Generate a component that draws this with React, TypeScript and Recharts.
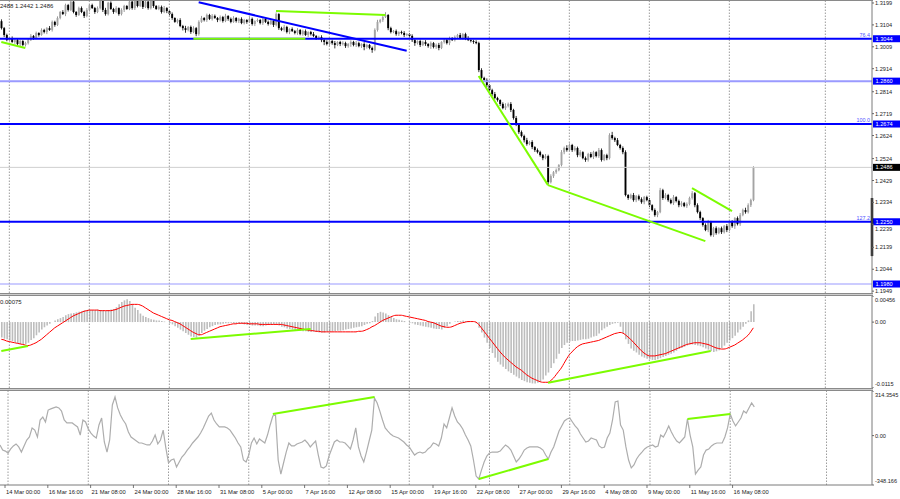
import React from "react"
import { ComposedChart, Bar, Line, XAxis, YAxis, ReferenceLine } from "recharts"

// ─── Price data (4H candles, prices in pips: 13044 = 1.3044) ──────────────────

const firstOpenPips = 13120

const closePips = [
  13090, 13060, 13038, 13047, 13030, 13038, 13021, 13034, 13017, 13025,
  13038, 13056, 13047, 13069, 13060, 13082, 13073, 13090, 13082, 13117,
  13104, 13134, 13160, 13151, 13190, 13169, 13205, 13160, 13147, 13177,
  13160, 13143, 13169, 13190, 13177, 13160, 13177, 13208, 13169, 13151,
  13200, 13173, 13160, 13177, 13151, 13169, 13186, 13173, 13205, 13177,
  13212, 13186, 13215, 13182, 13205, 13177, 13210, 13186, 13173, 13182,
  13160, 13177, 13164, 13151, 13134, 13117, 13125, 13099, 13090, 13082,
  13095, 13073, 13090, 13064, 13117, 13134, 13125, 13147, 13130, 13143,
  13134, 13125, 13138, 13121, 13143, 13130, 13117, 13134, 13121, 13130,
  13112, 13125, 13117, 13130, 13108, 13121, 13125, 13112, 13130, 13117,
  13108, 13121, 13104, 13151, 13090, 13082, 13095, 13073, 13086, 13077,
  13069, 13082, 13064, 13077, 13060, 13073, 13064, 13056, 13047, 13051,
  13038, 13030, 13021, 13034, 13025, 13017, 13030, 13021, 13025, 13012,
  13021, 13030, 13017, 13025, 13012, 13021, 13008, 13017, 13004, 12995,
  13082, 13117, 13125, 13138, 13147, 13090, 13073, 13077, 13064, 13073,
  13069, 13060, 13064, 13056, 13038, 13025, 13034, 13017, 13030, 13021,
  13012, 13025, 13008, 13017, 13004, 13030, 13038, 13025, 13047, 13038,
  13051, 13060, 13047, 13064, 13047, 13038, 13034, 13030, 13025, 12908,
  12874, 12865, 12843, 12821, 12804, 12787, 12778, 12761, 12743, 12752,
  12761, 12735, 12700, 12670, 12639, 12622, 12604, 12587, 12596, 12574,
  12561, 12552, 12539, 12526, 12535, 12422, 12448, 12465, 12474, 12496,
  12552, 12570, 12561, 12583, 12561, 12570, 12539, 12552, 12526, 12518,
  12544, 12531, 12552, 12535, 12561, 12518, 12539, 12526, 12626, 12613,
  12604, 12583, 12570, 12552, 12366, 12353, 12366, 12344, 12361, 12348,
  12335, 12357, 12344, 12322, 12301, 12279, 12292, 12387, 12353, 12366,
  12344, 12331, 12357, 12340, 12322, 12331, 12318, 12327, 12353, 12374,
  12322, 12292, 12266, 12236, 12214, 12249, 12192, 12222, 12201, 12222,
  12205, 12231, 12214, 12249, 12231, 12266, 12240, 12279, 12301, 12292,
  12322, 12344, 12486,
]

// shadow lengths above / below the body, pips
const upWick = [
  8, 5, 6, 4, 7, 3, 9, 5, 4, 6, 5, 8, 4, 6, 3, 7, 5, 4, 9, 6,
  5, 7, 4, 8, 6, 5, 3, 9, 4, 6, 7, 5, 8, 4, 6, 5, 7, 3, 6, 9,
  4, 6, 5, 8, 3, 7, 5, 4, 6, 8, 5, 4, 7, 6, 3, 8, 5, 6, 4, 7,
  6, 9, 4, 5, 7, 3, 6, 8, 5, 10, 4, 6, 8, 5, 7, 9, 4, 6, 5, 8,
  6, 4, 7, 5, 9, 3, 6, 8, 4, 5, 7, 5, 4, 8, 6, 3, 7, 5, 9, 4,
  6, 8, 5, 7, 4, 6, 9, 5, 3, 7, 5, 8, 4, 6, 7, 3, 5, 9, 4, 6,
  8, 5, 7, 4, 6, 9, 3, 5, 8, 6, 4, 7, 5, 9, 6, 3, 8, 5, 4, 6,
  7, 9, 5, 8, 12, 4, 6, 5, 7, 3, 6, 8, 4, 5, 7, 9, 3, 6, 5, 8,
  4, 7, 5, 6, 9, 3, 8, 5, 6, 4, 7, 5, 9, 4, 6, 8, 3, 5, 7, 6,
  8, 5, 7, 4, 6, 9, 5, 3, 7, 12, 6, 8, 5, 9, 4, 7, 6, 10, 5, 8,
  4, 7, 6, 5, 9, 6, 8, 5, 7, 4, 9, 6, 12, 7, 5, 8, 6, 9, 4, 7,
  5, 8, 6, 4, 9, 7, 5, 6, 8, 14, 6, 9, 5, 7, 8, 4, 6, 9, 5, 7,
  8, 5, 6, 9, 4, 7, 5, 10, 6, 8, 5, 7, 9, 4, 6, 8, 5, 7, 6, 9,
  5, 8, 6, 4, 7, 9, 5, 6, 8, 4, 7, 5, 9, 6, 8, 4, 7, 9, 6, 10,
  8, 6, 5,
]

const downWick = [
  6, 9, 5, 7, 4, 8, 6, 10, 5, 7, 6, 4, 8, 5, 7, 3, 6, 9, 4, 7,
  8, 5, 6, 4, 9, 7, 5, 6, 8, 4, 5, 9, 6, 7, 4, 8, 5, 6, 9, 7,
  6, 4, 8, 5, 7, 6, 9, 4, 5, 7, 8, 6, 4, 9, 5, 7, 6, 8, 4, 5,
  7, 5, 9, 6, 8, 4, 7, 5, 10, 12, 6, 8, 5, 9, 7, 4, 6, 8, 5, 7,
  4, 9, 6, 7, 5, 8, 6, 4, 7, 9, 5, 6, 8, 4, 7, 9, 5, 6, 8, 5,
  7, 4, 9, 6, 8, 5, 7, 6, 9, 4, 6, 8, 5, 7, 4, 9, 6, 5, 8, 7,
  9, 14, 6, 8, 7, 15, 5, 9, 6, 8, 7, 12, 6, 9, 5, 8, 14, 7, 6, 12,
  5, 7, 6, 8, 4, 9, 6, 5, 7, 8, 6, 9, 5, 7, 8, 12, 6, 9, 5, 8,
  7, 12, 6, 8, 10, 5, 7, 6, 9, 4, 6, 8, 5, 7, 9, 4, 6, 8, 5, 9,
  7, 6, 9, 5, 8, 6, 7, 9, 5, 8, 6, 9, 7, 5, 8, 6, 10, 7, 5, 9,
  8, 6, 7, 9, 5, 10, 6, 8, 7, 5, 6, 9, 7, 5, 8, 6, 9, 7, 5, 8,
  7, 5, 9, 6, 8, 7, 5, 9, 6, 7, 8, 5, 7, 9, 6, 8, 5, 7, 9, 6,
  7, 9, 5, 8, 6, 7, 9, 5, 8, 6, 7, 5, 8, 6, 9, 7, 5, 8, 6, 7,
  9, 6, 8, 7, 5, 9, 6, 8, 7, 5, 8, 6, 9, 5, 7, 12, 6, 8, 5, 7,
  6, 8, 5,
]

// ─── Indicators ───────────────────────────────────────────────────────────────

// MACD histogram and signal, units of 0.0001
const macdHist = [
  -27, -29, -30, -32, -33, -35, -37, -38, -39, -38, -36, -31, -28, -23, -18, -13, -9, -6, -3, 0,
  3, 5, 7, 9, 12, 14, 15, 16, 17, 18, 19, 20, 21, 21, 21, 21, 22, 21, 21, 20,
  21, 22, 23, 26, 31, 35, 38, 40, 37, 30, 25, 21, 15, 11, 9, 7, 5, 4, 3, 3,
  2, 1, 0, -2, -4, -7, -10, -13, -16, -19, -22, -25, -26, -27, -24, -19, -15, -12, -9, -7,
  -5, -4, -4, -3, -2, -2, -1, -2, -2, -3, -3, -4, -5, -5, -6, -6, -6, -7, -7, -6,
  -5, -5, -4, -3, -6, -8, -9, -11, -12, -13, -14, -15, -15, -16, -16, -17, -17, -17, -17, -18,
  -18, -18, -17, -17, -16, -16, -15, -15, -14, -13, -12, -11, -10, -9, -8, -7, -5, -3, -2, 2,
  10, 16, 18, 17, 15, 12, 9, 7, 5, 4, 3, 2, 0, -1, -2, -4, -5, -6, -7, -8,
  -9, -10, -11, -12, -12, -13, -10, -7, -3, 0, 1, 2, 2, 3, 2, 2, 1, 0, -2, -10,
  -18, -27, -36, -45, -54, -62, -69, -74, -78, -82, -86, -89, -92, -95, -98, -101, -103, -105, -106, -107,
  -107, -106, -104, -100, -93, -88, -80, -72, -64, -55, -45, -40, -36, -34, -33, -33, -32, -31, -30, -30,
  -29, -27, -25, -24, -20, -14, -11, -8, -5, -3, -2, -1, -8, -20, -30, -38, -46, -50, -53, -57,
  -60, -62, -64, -65, -66, -66, -65, -63, -61, -59, -57, -55, -53, -50, -47, -45, -43, -41, -39, -39,
  -40, -41, -42, -44, -46, -48, -51, -52, -51, -49, -45, -41, -36, -32, -28, -24, -18, -13, -8, -3,
  3, 19, 31,
]

const macdSignal = [
  -30, -31, -33, -34, -35, -36, -37, -38, -39, -40, -41, -40, -38, -36, -33, -30, -26, -22, -18, -14,
  -10, -7, -4, -1, 2, 5, 8, 11, 13, 15, 17, 19, 20, 21, 21, 21, 21, 20, 20, 20,
  20, 20, 21, 22, 24, 26, 28, 29, 30, 31, 31, 31, 30, 28, 25, 22, 19, 16, 14, 12,
  10, 8, 6, 4, 3, 1, -1, -3, -6, -9, -12, -15, -18, -20, -22, -22, -20, -18, -16, -14,
  -12, -10, -8, -7, -6, -5, -4, -3, -3, -2, -2, -2, -2, -3, -3, -3, -3, -4, -4, -4,
  -4, -4, -4, -4, -4, -4, -5, -6, -7, -8, -9, -10, -11, -12, -13, -14, -15, -15, -16, -16,
  -17, -17, -17, -17, -17, -17, -17, -17, -17, -17, -17, -17, -17, -17, -16, -16, -15, -13, -11, -8,
  -6, -3, 0, 3, 5, 7, 9, 11, 12, 12, 12, 11, 10, 9, 8, 7, 6, 5, 4, 3,
  1, 0, -1, -3, -5, -7, -8, -9, -9, -8, -6, -4, -2, -1, 0, 1, 1, 1, 0, -4,
  -10, -16, -22, -28, -34, -40, -46, -52, -57, -62, -66, -70, -74, -78, -81, -84, -88, -92, -95, -98,
  -100, -102, -104, -105, -105, -105, -102, -98, -92, -86, -80, -72, -64, -57, -52, -47, -43, -40, -38, -37,
  -36, -35, -34, -33, -32, -30, -28, -26, -24, -22, -20, -19, -18, -19, -22, -26, -30, -35, -40, -45,
  -50, -54, -57, -59, -59, -59, -58, -57, -56, -55, -53, -51, -49, -47, -45, -43, -41, -39, -38, -37,
  -36, -36, -36, -37, -38, -39, -41, -43, -45, -46, -47, -47, -46, -44, -42, -40, -37, -34, -31, -27,
  -23, -17, -10,
]

const cciValues = [
  -66, -102, -109, -123, -94, -73, -59, -80, -116, -73, -31, -10, 54, 39, -10, 110, 131, 96, 180, 188,
  195, 202, 195, 173, 110, 89, 89, 89, 75, 61, 4, 110, 96, 47, 18, -3, -17, 75, 124, -45,
  -116, -31, 216, 272, 195, 145, 110, 82, 25, -10, -24, -38, -52, -52, -59, -66, -66, -38, 4, -59,
  -31, 39, -87, -193, -172, -165, -221, -186, -151, -130, -102, -80, -52, -31, -10, 18, 54, 96, 138, 159,
  110, 82, 61, 61, 61, 54, 39, 11, -17, -52, -80, -172, -186, -137, -52, -17, -59, -24, -38, -52,
  4, 75, 138, 145, -172, -271, -193, -116, -52, -73, -73, -59, -52, -45, -31, -52, -80, -59, -38, -137,
  -221, -228, -214, -144, -94, -45, -31, -45, -45, -52, -73, -94, -31, 54, -80, -144, -186, -116, -38, 39,
  265, 230, 173, 110, 54, 32, 11, -3, -10, -17, -31, -45, -66, -80, -109, -137, -123, -116, -123, -116,
  -94, -80, -52, -59, -73, -17, 82, 54, 124, 195, 138, 96, 75, 47, 4, -31, -73, -172, -285, -306,
  -243, -186, -144, -123, -116, -116, -116, -109, -87, -66, -80, -102, -144, -186, -165, -137, -102, -87, -80, -80,
  -80, -80, -87, -102, -137, -165, -116, -80, -24, 32, 68, 103, 117, 124, 96, 68, 47, 11, -17, -45,
  -38, -17, -24, -31, -73, -87, -80, -17, 18, 110, 237, 244, 75, 39, -80, -172, -228, -207, -165, -137,
  -116, -94, -80, -73, -66, -80, -73, 4, -10, 25, 68, 25, -10, -38, -52, -31, -10, 117, 4, -80,
  -271, -243, -221, -137, -102, -94, -73, -59, -52, -52, -52, -10, 54, 152, 103, 68, 96, 124, 173, 159,
  195, 230, 202,
]

const futureBars = 44

// ─── Axes, levels, drawings ───────────────────────────────────────────────────

const PRICE_HIGH = 1.3212
const PRICE_LOW = 1.1941
const priceTicks = [1.3199, 1.3104, 1.3009, 1.2914, 1.2814, 1.2719, 1.2624, 1.2524, 1.2429, 1.2334, 1.2239, 1.2139, 1.2044, 1.1949]

const MACD_DOMAIN = [-0.0115, 0.00456]
const macdTicks = [0.00456, 0, -0.0115]
const macdTickLabels = ["0.00456", "0.00", "-0.0115"]

const CCI_DOMAIN = [-348.166, 314.3545]
const cciTicks = [314.3545, 0, -348.166]
const cciTickLabels = ["314.3545", "0.00", "-348.166"]

const timeLabelIdx = [3, 19, 35, 51, 67, 83, 99, 115, 131, 147, 163, 179, 195, 211, 227, 243, 259, 275]
const timeLabels = [
  "14 Mar 00:00", "16 Mar 16:00", "21 Mar 08:00", "24 Mar 00:00", "28 Mar 16:00", "31 Mar 08:00",
  "5 Apr 00:00", "7 Apr 16:00", "12 Apr 08:00", "15 Apr 00:00", "19 Apr 16:00", "22 Apr 08:00",
  "27 Apr 00:00", "29 Apr 16:00", "4 May 08:00", "9 May 00:00", "11 May 16:00", "16 May 08:00",
]
const gridIdx = [3, 33, 63, 93, 123, 153, 183, 213, 243, 273, 309]

const levelPrices = [1.3044, 1.286, 1.2674, 1.225, 1.198]
const levelFibs = ["76.4", "", "100.0", "127.2", ""]
const levelStrong = [true, false, true, true, false]

const priceSegments = [
  [[0, 1.303], [9, 1.3004]],
  [[72, 1.3044], [114, 1.3044]],
  [[103, 1.3164], [144, 1.3147]],
  [[179, 1.2882], [205, 1.2409]],
  [[205, 1.2409], [264, 1.2166]],
  [[259, 1.2396], [274, 1.2296]],
]
const trendSegment = [[74, 1.3202], [152, 1.2992]]
const macdSegments = [
  [[0, -0.00504], [10, -0.00417]],
  [[71, -0.00295], [116, -0.0012]],
  [[205, -0.0106], [266, -0.00504]],
]
const cciSegments = [
  [[102, 152], [140, 272]],
  [[179, -306], [205, -165]],
  [[257, 117], [273, 152]],
]
// dark marker on the price scale
const scaleMark = [1.2353, 1.2101]

// ─── Rows ─────────────────────────────────────────────────────────────────────

const rows = Array.from({ length: closePips.length + futureBars }, (_, i) => {
  if (i >= closePips.length) return { i }
  const o = (i === 0 ? firstOpenPips : closePips[i - 1]) / 10000
  const c = closePips[i] / 10000
  const h = Math.max(o, c) + upWick[i] / 10000
  const l = Math.min(o, c) - downWick[i] / 10000
  return {
    i, o, h, l, c,
    range: [l, h],
    hist: macdHist[i] / 10000,
    signal: macdSignal[i] / 10000,
    cci: cciValues[i],
  }
})
const lastPrice = closePips[closePips.length - 1] / 10000
const lastIdx = rows.length - 1

// ─── Look ─────────────────────────────────────────────────────────────────────

const FONT = "'Liberation Sans', Arial, sans-serif"
const W = 900
const AXIS_W = 28
const GREEN = "#7cfc00"
const BLUE = "#0000ff"
const LIGHT_BLUE = "#9a9aff"
const GRID = "#9c9c9c"
const AXIS = "#7a7a7a"
const TEXT = "#222"
const NO_MARGIN = { top: 0, right: 0, bottom: 0, left: 0 }

function Candle(props: any) {
  const { x, y, width, height, payload } = props
  if (!payload || payload.o == null || !isFinite(y) || !isFinite(height)) return <g />
  const { o, h, l, c } = payload
  const top = Math.min(y, y + height)
  const bot = Math.max(y, y + height)
  const k = (bot - top) / (h - l)
  const yO = top + (h - o) * k
  const yC = top + (h - c) * k
  const cx = x + width / 2
  const bull = c >= o
  return (
    <g>
      <line x1={cx} x2={cx} y1={top} y2={bot} stroke={bull ? "#808080" : "#000"} strokeWidth={0.8} />
      <rect x={cx - 0.95} y={Math.min(yO, yC)} width={1.9} height={Math.max(0.8, Math.abs(yC - yO))} fill={bull ? "#a4a4a4" : "#000"} />
    </g>
  )
}

function PriceTick(props: any) {
  const { x, y, payload } = props
  // the 1.2239 label sits partly under the 1.2250 tag, peeking out below it
  const dy = payload.value === 1.2239 ? 4.5 : 0
  return (
    <text x={x} y={y + 2 + dy} fontSize={5.6} fill={TEXT} fontFamily={FONT}>{payload.value.toFixed(4)}</text>
  )
}

function EdgeTick(props: any) {
  const { x, y, payload, ticks, labels } = props
  const k = ticks.indexOf(payload.value)
  const dy = k === 0 ? 4 : k === ticks.length - 1 ? -4 : 0
  return (
    <text x={x} y={y + 2 + dy} fontSize={5.6} fill={TEXT} fontFamily={FONT}>{labels[k]}</text>
  )
}

function TimeTick(props: any) {
  const { x, y, payload } = props
  const k = timeLabelIdx.indexOf(payload.value)
  return (
    <g>
      <line x1={x - 3} x2={x - 3} y1={y} y2={y + 3} stroke="#555" strokeWidth={0.8} />
      <text x={x - 2} y={y + 8.8} fontSize={5.8} fill={TEXT} fontFamily={FONT}>{timeLabels[k]}</text>
    </g>
  )
}

function LevelTag(props: any) {
  const { viewBox, text, fib, bg } = props
  if (!viewBox) return <g />
  const right = viewBox.x + viewBox.width
  const y = viewBox.y
  return (
    <g>
      {fib ? <text x={right - 2} y={y - 1.8} textAnchor="end" fontSize={5.4} fill="#5050ff" fontFamily={FONT}>{fib}</text> : null}
      <rect x={right + 1} y={y - 3.5} width={AXIS_W - 1} height={7} fill={bg} />
      <text x={right + 3.5} y={y + 2} fontSize={5.6} fill="#fff" fontFamily={FONT}>{text}</text>
    </g>
  )
}

function gridLines() {
  return gridIdx.map((g) => (
    <ReferenceLine key={"g" + g} x={g} position="middle" stroke={GRID} strokeDasharray="1.5 1.5" strokeWidth={1} />
  ))
}

function segmentLines(list: number[][][], color: string, prefix: string) {
  return list.map((s, k) => (
    <ReferenceLine
      key={prefix + k}
      segment={[{ x: s[0][0], y: s[0][1] }, { x: s[1][0], y: s[1][1] }]}
      position="middle"
      stroke={color}
      strokeWidth={2}
    />
  ))
}

function PriceChart() {
  return (
    <ComposedChart width={W} height={293} data={rows} margin={NO_MARGIN} barCategoryGap={0} barGap={0}>
      <XAxis dataKey="i" hide />
      <YAxis
        orientation="right"
        width={AXIS_W}
        domain={[PRICE_LOW, PRICE_HIGH]}
        allowDataOverflow
        ticks={priceTicks}
        interval={0}
        axisLine={{ stroke: AXIS }}
        tickLine={{ stroke: "#666" }}
        tickSize={2}
        tickMargin={1}
        tick={<PriceTick />}
      />
      {gridLines()}
      <ReferenceLine y={lastPrice} stroke="#cfcfcf" strokeWidth={1} label={<LevelTag text={lastPrice.toFixed(4)} bg="#000" />} />
      <Bar dataKey="range" shape={(p: any) => <Candle {...p} />} isAnimationActive={false} />
      {levelPrices.map((p, k) => (
        <ReferenceLine
          key={"lv" + k}
          y={p}
          stroke={levelStrong[k] ? BLUE : LIGHT_BLUE}
          strokeWidth={levelStrong[k] || k === 1 ? 2 : 1.2}
          label={<LevelTag text={p.toFixed(4)} fib={levelFibs[k]} bg={BLUE} />}
        />
      ))}
      {segmentLines([trendSegment], BLUE, "t")}
      {segmentLines(priceSegments, GREEN, "p")}
      <ReferenceLine
        segment={[{ x: lastIdx, y: scaleMark[0] }, { x: lastIdx, y: scaleMark[1] }]}
        position="end"
        stroke="#000"
        strokeWidth={2.5}
      />
    </ComposedChart>
  )
}

function MacdChart() {
  return (
    <ComposedChart width={W} height={92} data={rows} margin={NO_MARGIN} barCategoryGap={0} barGap={0}>
      <XAxis dataKey="i" hide />
      <YAxis
        orientation="right"
        width={AXIS_W}
        domain={MACD_DOMAIN}
        allowDataOverflow
        ticks={macdTicks}
        interval={0}
        axisLine={{ stroke: AXIS }}
        tickLine={{ stroke: "#666" }}
        tickSize={2}
        tickMargin={1}
        tick={<EdgeTick ticks={macdTicks} labels={macdTickLabels} />}
      />
      {gridLines()}
      <Bar dataKey="hist" fill="#bdbdbd" barSize={1.6} isAnimationActive={false} />
      <Line dataKey="signal" type="monotone" stroke="#ff0000" strokeWidth={1} dot={false} isAnimationActive={false} />
      {segmentLines(macdSegments, GREEN, "m")}
    </ComposedChart>
  )
}

function CciChart() {
  return (
    <ComposedChart width={W} height={108} data={rows} margin={NO_MARGIN}>
      <XAxis
        dataKey="i"
        height={14}
        ticks={timeLabelIdx}
        interval={0}
        axisLine={{ stroke: AXIS }}
        tickLine={false}
        tickSize={0}
        tickMargin={0}
        tick={<TimeTick />}
      />
      <YAxis
        orientation="right"
        width={AXIS_W}
        domain={CCI_DOMAIN}
        allowDataOverflow
        ticks={cciTicks}
        interval={0}
        axisLine={{ stroke: AXIS }}
        tickLine={{ stroke: "#666" }}
        tickSize={2}
        tickMargin={1}
        tick={<EdgeTick ticks={cciTicks} labels={cciTickLabels} />}
      />
      {gridLines()}
      <Line dataKey="cci" type="linear" stroke="#adadad" strokeWidth={1.2} dot={false} isAnimationActive={false} />
      {segmentLines(cciSegments, GREEN, "c")}
    </ComposedChart>
  )
}

const separator: React.CSSProperties = {
  position: "absolute",
  left: 0,
  width: W - AXIS_W + 1,
  height: 3,
  boxSizing: "border-box",
  background: "#cdcdcd",
  borderTop: "1px solid #8a8a8a",
  borderBottom: "1px solid #8a8a8a",
}

const smallText: React.CSSProperties = {
  position: "absolute",
  fontFamily: FONT,
  fontSize: 6,
  color: TEXT,
  whiteSpace: "nowrap",
  lineHeight: "6px",
}

export default function App() {
  return (
    <div style={{ position: "fixed", left: 0, top: 0, width: W, height: 499, background: "#fff", overflow: "hidden" }}>
      <div style={{ position: "absolute", left: 0, top: 0 }}><PriceChart /></div>
      <div style={{ ...separator, top: 293 }} />
      <div style={{ position: "absolute", left: 0, top: 296 }}><MacdChart /></div>
      <div style={{ ...separator, top: 388 }} />
      <div style={{ position: "absolute", left: 0, top: 391 }}><CciChart /></div>
      <div style={{ position: "absolute", left: 0, top: 0, width: W - AXIS_W + 1, height: 1, background: "#8a8a8a" }} />
      <div style={{ ...smallText, left: 0, top: 3 }}>2488 1.2442 1.2486</div>
      <div style={{ ...smallText, left: 0, top: 299 }}>0.00075</div>
    </div>
  )
}
